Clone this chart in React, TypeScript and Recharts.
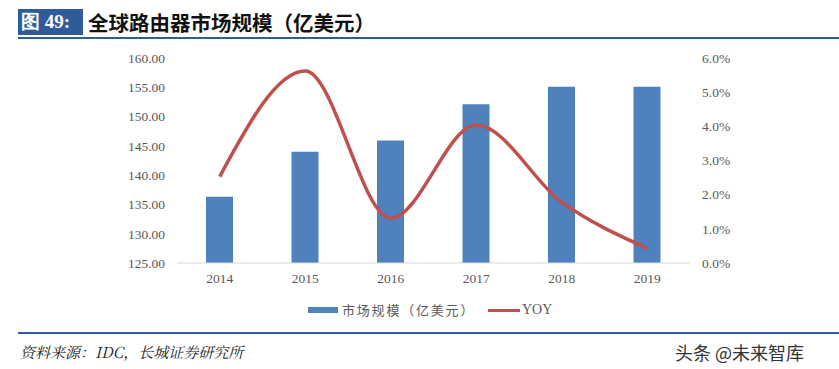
import React from 'react';
import { ComposedChart, Bar, Line, XAxis, YAxis } from 'recharts';

const years = ['2014', '2015', '2016', '2017', '2018', '2019'];
const marketSize = [136.3, 144.0, 145.9, 152.1, 155.1, 155.1];
const yoy = [0.0253, 0.0562, 0.0131, 0.0404, 0.0178, 0.0043];
const leftTicks = [125, 130, 135, 140, 145, 150, 155, 160];
const rightTicks = [0, 0.01, 0.02, 0.03, 0.04, 0.05, 0.06];

const data = years.map((y, i) => ({ year: y, size: marketSize[i], yoy: yoy[i] }));

const tickStyle = { fill: '#595959', fontSize: 13.5, fontFamily: '"Liberation Serif", serif' };

export default function App() {
  return (
    <div style={{ position: 'absolute', left: 0, top: 0, width: 839, height: 369, background: '#fff', overflow: 'hidden' }}>
      <div style={{ position: 'absolute', left: 18, top: 9, width: 65, height: 26, background: '#2E5C9A', color: '#fff', fontFamily: '"Liberation Serif", serif', fontWeight: 'bold', fontSize: 19, lineHeight: '26px', paddingLeft: 3, boxSizing: 'border-box', whiteSpace: 'pre' }}>
        {'图 49:'}
      </div>
      <div style={{ position: 'absolute', left: 88, top: 7, height: 30, color: '#111', fontFamily: '"Noto Sans CJK SC", sans-serif', fontWeight: 'bold', fontSize: 20.5, lineHeight: '30px' }}>
        全球路由器市场规模（亿美元）
      </div>
      <div style={{ position: 'absolute', left: 18, top: 37, width: 821, height: 2, background: '#2E5C9A' }} />

      <div style={{ position: 'absolute', left: 0, top: 0 }}>
        <ComposedChart width={839} height={369} data={data} margin={{ top: 58, right: 89, left: 117, bottom: 76 }}>
          <XAxis dataKey="year" axisLine={{ stroke: '#d9d9d9' }} tickLine={false} tickSize={8} tickMargin={2} tick={tickStyle} height={30} />
          <YAxis yAxisId="left" domain={[125, 160]} ticks={leftTicks} axisLine={false} tickLine={false} tickSize={10} tickMargin={2} width={60} tick={tickStyle} tickFormatter={(v: number) => v.toFixed(2)} interval={0} />
          <YAxis yAxisId="right" orientation="right" domain={[0, 0.06]} ticks={rightTicks} axisLine={false} tickLine={false} tickSize={10} tickMargin={2} width={60} tick={tickStyle} tickFormatter={(v: number) => (v * 100).toFixed(1) + '%'} interval={0} />
          <Bar yAxisId="left" dataKey="size" fill="#4F81BD" barSize={27} isAnimationActive={false} />
          <Line yAxisId="right" dataKey="yoy" type="monotone" stroke="#C0504D" strokeWidth={3.5} dot={false} isAnimationActive={false} />
        </ComposedChart>
      </div>

      <div style={{ position: 'absolute', left: 308, top: 307, width: 30, height: 6, background: '#4F81BD' }} />
      <div style={{ position: 'absolute', left: 342, top: 300, fontFamily: '"Noto Sans CJK SC", sans-serif', fontSize: 13, color: '#595959', lineHeight: '20px', letterSpacing: 1.8 }}>
        市场规模（亿美元）
      </div>
      <div style={{ position: 'absolute', left: 488, top: 309, width: 32, height: 3, background: '#C0504D' }} />
      <div style={{ position: 'absolute', left: 522, top: 300, fontFamily: '"Liberation Serif", serif', fontSize: 14, color: '#595959', lineHeight: '20px' }}>
        YOY
      </div>

      <div style={{ position: 'absolute', left: 18, top: 332, width: 821, height: 2, background: '#2E5C9A' }} />
      <div style={{ position: 'absolute', left: 20, top: 341, fontFamily: '"Noto Serif CJK SC", "Noto Sans CJK SC", serif', fontStyle: 'italic', fontSize: 15, color: '#222', lineHeight: '22px' }}>
        资料来源：IDC，长城证券研究所
      </div>
      <div style={{ position: 'absolute', left: 675, top: 340, fontFamily: '"Noto Sans CJK SC", sans-serif', fontSize: 18, color: '#333', lineHeight: '24px' }}>
        头条 @未来智库
      </div>
    </div>
  );
}
